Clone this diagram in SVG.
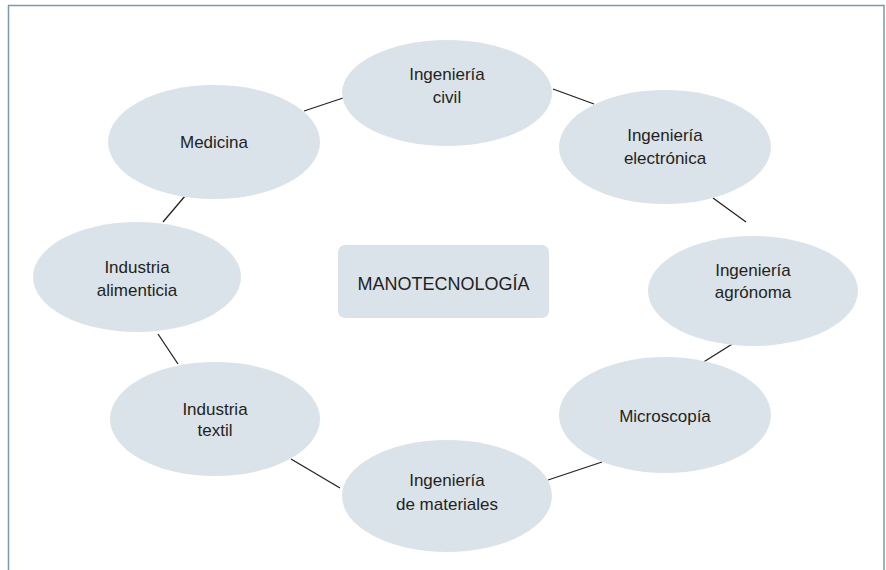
<svg xmlns="http://www.w3.org/2000/svg" width="886" height="570" viewBox="0 0 886 570">
<style>
.frame{fill:none;stroke:#7d98aa;stroke-width:1.5}
.node{fill:#dbe3ea}
.t{font-family:"Liberation Sans",Arial,sans-serif;font-size:17px;fill:#231f20;text-anchor:middle}
.c{font-size:18px}
#connectors line{stroke:#222;stroke-width:1.3}
</style>
<rect width="886" height="570" fill="#fff"/>
<path class="frame" d="M8.5,570 V5.5 H884 V570"/>
<g id="connectors">
<line x1="304" y1="111" x2="343" y2="98"/>
<line x1="553" y1="89" x2="594" y2="104"/>
<line x1="713" y1="198" x2="746" y2="222"/>
<line x1="745" y1="336" x2="702" y2="363"/>
<line x1="602" y1="462" x2="548" y2="480"/>
<line x1="291" y1="459" x2="340" y2="488"/>
<line x1="178" y1="364" x2="158" y2="334"/>
<line x1="163" y1="222" x2="185" y2="196"/>
</g>
<g id="center">
<rect class="node" x="338" y="245" width="211" height="73" rx="7"/>
<text class="t c" x="443.5" y="290">MANOTECNOLOGÍA</text>
</g>
<g id="civil">
<ellipse class="node" cx="447" cy="93" rx="105" ry="53"/>
<text class="t" x="447" y="80">Ingeniería</text>
<text class="t" x="447" y="103">civil</text>
</g>
<g id="electronica">
<ellipse class="node" cx="665" cy="147" rx="106" ry="57"/>
<text class="t" x="665" y="141">Ingeniería</text>
<text class="t" x="665" y="164">electrónica</text>
</g>
<g id="agronoma">
<ellipse class="node" cx="753" cy="291" rx="105" ry="55"/>
<text class="t" x="753" y="276">Ingeniería</text>
<text class="t" x="753" y="298">agrónoma</text>
</g>
<g id="microscopia">
<ellipse class="node" cx="665" cy="415" rx="106" ry="58"/>
<text class="t" x="665" y="422">Microscopía</text>
</g>
<g id="materiales">
<ellipse class="node" cx="447" cy="496" rx="105" ry="56"/>
<text class="t" x="447" y="486">Ingeniería</text>
<text class="t" x="447" y="510">de materiales</text>
</g>
<g id="textil">
<ellipse class="node" cx="215" cy="419" rx="105" ry="57"/>
<text class="t" x="215" y="415">Industria</text>
<text class="t" x="215" y="436">textil</text>
</g>
<g id="alimenticia">
<ellipse class="node" cx="137" cy="277" rx="104" ry="55"/>
<text class="t" x="137" y="273">Industria</text>
<text class="t" x="137" y="296">alimenticia</text>
</g>
<g id="medicina">
<ellipse class="node" cx="214" cy="142" rx="106" ry="57"/>
<text class="t" x="214" y="148">Medicina</text>
</g>
</svg>
